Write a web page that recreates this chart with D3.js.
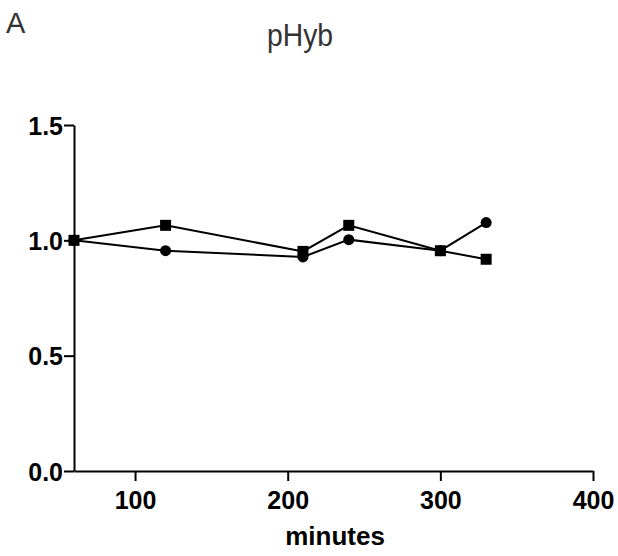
<!DOCTYPE html>
<html>
<head>
<meta charset="utf-8">
<script src="https://cdn.jsdelivr.net/npm/d3@7"></script>
<style>
  html, body { margin: 0; padding: 0; background: #fff; }
  svg { display: block; }
  .tick text { font-family: "Liberation Sans", Arial, sans-serif; font-weight: bold; font-size: 25px; fill: #000; }
</style>
</head>
<body>
<svg id="chart" width="618" height="556"></svg>
<script>
const minutes = [60, 120, 210, 240, 300, 330];
const circleSeries = [1.0, 0.955, 0.928, 1.003, 0.955, 1.077];
const squareSeries = [1.0, 1.065, 0.952, 1.065, 0.955, 0.918];
const xTicks = [100, 200, 300, 400];
const yTicks = [0.0, 0.5, 1.0, 1.5];
const titleText = "pHyb";
const panelLabel = "A";
const xLabel = "minutes";

const svg = d3.select("#chart");
const x = d3.scaleLinear().domain([60, 400]).range([74, 593]);
const y = d3.scaleLinear().domain([0, 1.5]).range([471, 125]);

svg.append("text").attr("x", 6).attr("y", 33)
  .attr("font-family", "Liberation Sans, Arial, sans-serif").attr("font-size", 29)
  .attr("fill", "#333").text(panelLabel);
svg.append("text").attr("x", 267).attr("y", 46)
  .attr("font-family", "Liberation Sans, Arial, sans-serif").attr("font-size", 31)
  .attr("textLength", 66).attr("lengthAdjust", "spacingAndGlyphs")
  .attr("fill", "#333").text(titleText);

const xAxis = svg.append("g").attr("transform", "translate(0,471)")
  .call(d3.axisBottom(x).tickValues(xTicks).tickSize(10).tickPadding(10).tickSizeOuter(0));
const yAxis = svg.append("g").attr("transform", "translate(74,0)")
  .call(d3.axisLeft(y).tickValues(yTicks).tickFormat(d3.format(".1f")).tickSize(10).tickPadding(1).tickSizeOuter(0));
[xAxis, yAxis].forEach(g => {
  g.select(".domain").attr("stroke", "#000").attr("stroke-width", 2);
  g.selectAll(".tick line").attr("stroke", "#000").attr("stroke-width", 2);
});
xAxis.selectAll(".tick text").attr("dy", "0.71em");
yAxis.selectAll(".tick text").attr("dy", "0.36em");

svg.append("text").attr("x", 335).attr("y", 545).attr("text-anchor", "middle")
  .attr("font-family", "Liberation Sans, Arial, sans-serif").attr("font-weight", "bold")
  .attr("font-size", 26).attr("fill", "#000").text(xLabel);

const line = d3.line().x(d => x(d[0])).y(d => y(d[1]));
const circData = minutes.map((m, i) => [m, circleSeries[i]]);
const sqData = minutes.map((m, i) => [m, squareSeries[i]]);

svg.append("path").datum(circData).attr("d", line).attr("fill", "none").attr("stroke", "#000").attr("stroke-width", 2);
svg.append("path").datum(sqData).attr("d", line).attr("fill", "none").attr("stroke", "#000").attr("stroke-width", 2);

svg.selectAll("circle.pt").data(circData).enter().append("circle").attr("class", "pt")
  .attr("cx", d => x(d[0])).attr("cy", d => y(d[1])).attr("r", 5.5).attr("fill", "#000");
svg.selectAll("rect.pt").data(sqData).enter().append("rect").attr("class", "pt")
  .attr("x", d => x(d[0]) - 5.5).attr("y", d => y(d[1]) - 5.5).attr("width", 11).attr("height", 11).attr("fill", "#000");
</script>
</body>
</html>
